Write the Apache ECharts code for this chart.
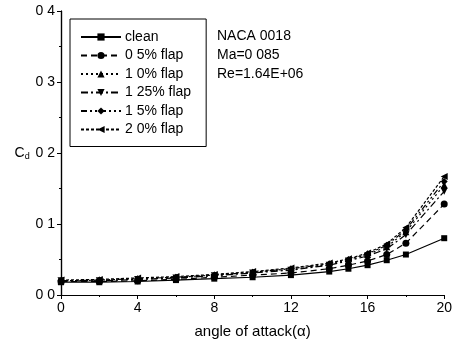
<!DOCTYPE html>
<html><head><meta charset="utf-8">
<script src="https://cdn.jsdelivr.net/npm/echarts@6/dist/echarts.min.js"></script>
<style>html,body{margin:0;padding:0;background:#fff}#c{width:455px;height:345px}</style>
</head><body><div id="c"></div>
<script>
const alpha = [0, 2, 4, 6, 8, 10, 12, 14, 15, 16, 17, 18, 20];
const seriesNames = ['clean', '0 5% flap', '1 0% flap', '1 25% flap', '1 5% flap', '2 0% flap'];
const clean  = [0.018, 0.018, 0.019, 0.021, 0.023, 0.025, 0.028, 0.033, 0.037, 0.042, 0.049, 0.057, 0.080];
const flap05 = [0.019, 0.019, 0.020, 0.022, 0.025, 0.028, 0.031, 0.037, 0.042, 0.048, 0.057, 0.073, 0.128];
const flap10 = [0.020, 0.021, 0.022, 0.025, 0.028, 0.032, 0.036, 0.043, 0.049, 0.057, 0.068, 0.089, 0.155];
const flap125= [0.020, 0.020, 0.022, 0.024, 0.027, 0.031, 0.035, 0.042, 0.048, 0.055, 0.065, 0.085, 0.146];
const flap15 = [0.020, 0.021, 0.023, 0.025, 0.028, 0.032, 0.037, 0.044, 0.050, 0.058, 0.070, 0.092, 0.160];
const flap20 = [0.021, 0.022, 0.024, 0.026, 0.029, 0.033, 0.038, 0.045, 0.051, 0.059, 0.072, 0.095, 0.167];
const yTicks = ['0 0', '0 1', '0 2', '0 3', '0 4'];
const noteLines = ['NACA 0018', 'Ma=0 085', 'Re=1.64E+06'];

const allData = [clean, flap05, flap10, flap125, flap15, flap20];
const symbols = ['rect', 'circle', 'triangle', 'path://M0,0L10,0L5,10Z', 'diamond', 'path://M10,0L10,10L0,5Z'];
const dashes = ['solid', [6, 4], [2, 3], [7, 3, 2, 3], [6, 3, 2, 3, 2, 3], [3, 2]];

const series = allData.map((d, i) => ({
  name: seriesNames[i],
  type: 'line',
  data: alpha.map((a, j) => [a, d[j]]),
  symbol: symbols[i],
  symbolSize: i === 0 ? 6 : 7,
  lineStyle: { color: '#000', width: 1.2, type: dashes[i] },
  itemStyle: { color: '#000' },
  z: 10 - i
}));

const chart = echarts.init(document.getElementById('c'));
chart.setOption({
  backgroundColor: '#fff',
  animation: false,
  grid: { left: 61, right: 8, top: 11, bottom: 50 },
  xAxis: [{
    type: 'value', min: 0, max: 20, interval: 4,
    name: 'angle of attack(\u03b1)', nameLocation: 'middle', nameGap: 29,
    nameTextStyle: { color: '#000', fontSize: 15, fontFamily: 'Liberation Sans' },
    axisLine: { lineStyle: { color: '#000', width: 1.2 } },
    axisTick: { lineStyle: { color: '#000' }, length: 4 },
    minorTick: { show: true, splitNumber: 2, length: 2, lineStyle: { color: '#000' } },
    axisLabel: { color: '#000', fontSize: 14, fontFamily: 'Liberation Sans', margin: 6 },
    splitLine: { show: false }
  }, {
    type: 'value', min: 0, max: 20, interval: 4, position: 'top',
    axisLine: { show: true, lineStyle: { color: '#000', width: 1.2 } },
    axisTick: { inside: true, length: 3, lineStyle: { color: '#000' } },
    axisLabel: { show: false }, splitLine: { show: false }
  }],
  yAxis: [{
    type: 'value', min: 0, max: 0.4, interval: 0.1,
    name: '{a|C}{b|d}', nameLocation: 'middle', nameGap: 22, nameRotate: 0,
    nameTextStyle: { rich: {
      a: { color: '#000', fontSize: 14, fontFamily: 'Liberation Sans' },
      b: { color: '#000', fontSize: 9, fontFamily: 'Liberation Sans', padding: [8, 0, 0, 0] }
    } },
    axisLine: { show: true, lineStyle: { color: '#000', width: 1.2 } },
    axisTick: { show: true, length: 4, lineStyle: { color: '#000' } },
    minorTick: { show: true, splitNumber: 2, length: 2, lineStyle: { color: '#000' } },
    axisLabel: { color: '#000', fontSize: 14, fontFamily: 'Liberation Sans', margin: 6,
      formatter: (v) => yTicks[Math.round(v * 10)] },
    splitLine: { show: false }
  }, {
    type: 'value', min: 0, max: 0.4, interval: 0.1, position: 'right',
    axisLine: { show: true, lineStyle: { color: '#000', width: 1.2 } },
    axisTick: { show: true, inside: true, length: 3, lineStyle: { color: '#000' } },
    axisLabel: { show: false }, splitLine: { show: false }
  }],
  legend: {
    left: 70, top: 19, orient: 'vertical',
    padding: [11, 15, 10, 10],
    borderColor: '#000', borderWidth: 1,
    itemWidth: 40, itemHeight: 9, itemGap: 4.5,
    textStyle: { color: '#000', fontSize: 14, fontFamily: 'Liberation Sans', padding: [0, 0, 0, -1] },
    data: seriesNames
  },
  graphic: noteLines.map((t, i) => ({
    type: 'text', left: 217, top: 29 + i * 19,
    style: { text: t, fill: '#000', font: '14px Liberation Sans' }
  })),
  series: series
});
</script></body></html>
